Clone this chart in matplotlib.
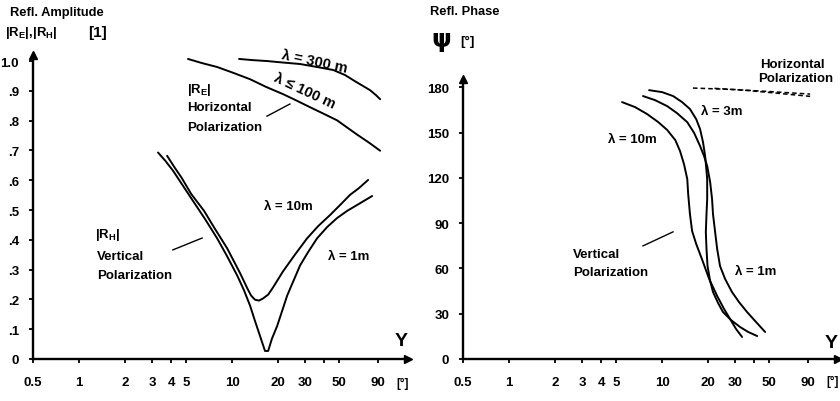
import matplotlib
matplotlib.use("Agg")
import matplotlib.pyplot as plt
from matplotlib.ticker import FixedLocator, FixedFormatter, NullLocator

# === DATA ===
# left panel: reflection amplitude |R|
amp_100m_x = [5.15, 6.37, 7.98, 10.1, 13.1, 16.7, 21.5, 26.2, 32.3, 39.3, 48.5, 56.4, 65.6, 78.5, 92.7]
amp_100m_y = [1.007, 0.993, 0.980, 0.961, 0.939, 0.913, 0.889, 0.868, 0.845, 0.824, 0.801, 0.777, 0.753, 0.726, 0.699]
amp_300m_x = [11.1, 13.7, 16.9, 21.5, 27.8, 35.9, 45.7, 54.7, 63.6, 71.8, 79.8, 87.3, 92.7]
amp_300m_y = [1.007, 1.003, 1.0, 0.995, 0.990, 0.980, 0.970, 0.953, 0.932, 0.916, 0.902, 0.885, 0.872]
amp_10m_x = [3.76, 4.18, 4.68, 5.40, 6.56, 7.74, 9.27, 11.3, 12.6, 13.3, 14.1, 15.0, 15.9, 17.2,
             18.5, 21.5, 25.8, 30.9, 36.5, 43.6, 50.8, 59.0, 67.6, 77.4]
amp_10m_y = [0.682, 0.645, 0.608, 0.554, 0.497, 0.436, 0.372, 0.287, 0.236, 0.213, 0.199, 0.196, 0.203, 0.216,
             0.240, 0.294, 0.351, 0.405, 0.446, 0.483, 0.517, 0.551, 0.574, 0.601]
amp_1m_x = [3.28, 3.65, 4.11, 4.78, 5.56, 6.65, 7.98, 9.27, 10.8, 11.97, 13.1, 14.1, 15.2, 16.4,
            17.2, 18.2, 19.7, 22.9, 27.8, 31.3, 35.9, 41.8, 48.5, 56.4, 65.6, 82.2]
amp_1m_y = [0.693, 0.666, 0.632, 0.581, 0.530, 0.470, 0.405, 0.345, 0.280, 0.230, 0.179, 0.128, 0.078, 0.027,
            0.027, 0.068, 0.111, 0.213, 0.314, 0.358, 0.405, 0.443, 0.473, 0.497, 0.517, 0.547]

# right panel: reflection phase psi [deg]
ph_10m_x = [5.47, 6.65, 7.97, 9.42, 10.8, 12.2, 13.1, 13.9, 14.6, 14.8, 15.2, 15.7, 16.7, 18.2,
            20.3, 22.9, 25.4, 27.8, 30.4, 33.3]
ph_10m_y = [170.2, 166.9, 162.3, 157.0, 151.7, 145.0, 137.7, 129.1, 119.2, 109.3, 96.0, 84.8, 76.2, 66.2,
            53.0, 41.7, 33.1, 26.5, 19.9, 14.6]
ph_3m_x = [8.22, 10.0, 11.8, 13.5, 15.2, 16.7, 17.7, 18.5, 19.1, 19.4, 19.7, 19.7, 19.5, 19.3, 19.5,
           19.8, 20.6, 21.5, 23.2, 25.0, 28.2, 32.3, 36.5, 41.8]
ph_3m_y = [178.1, 176.8, 174.2, 170.2, 165.6, 158.9, 152.3, 143.7, 134.4, 127.2, 119.2, 106.0, 96.0, 84.1, 72.8,
           61.6, 51.7, 44.4, 37.1, 31.1, 25.8, 21.2, 17.9, 15.2]
ph_1m_x = [7.50, 8.99, 10.8, 12.5, 14.6, 16.2, 17.7, 18.8, 19.7, 20.6, 21.2, 21.5, 22.2, 22.9, 23.9,
           25.8, 28.6, 31.8, 35.9, 41.1, 47.1]
ph_1m_y = [174.2, 171.5, 167.5, 162.9, 156.9, 149.7, 141.1, 134.4, 127.8, 117.2, 106.0, 96.0, 84.1, 72.8, 61.6,
           53.0, 44.4, 37.7, 31.1, 24.5, 17.9]
ph_hor1_x = [15.9, 30, 50, 92.7]
ph_hor1_y = [179.5, 178.5, 177.2, 175.5]
ph_hor2_x = [22, 35, 55, 92.7]
ph_hor2_y = [179.3, 178.0, 176.2, 174.0]

x_ticks = [0.5, 1, 2, 3, 4, 5, 10, 20, 30, 40, 50, 90]
x_labels = ["0.5", "1", "2", "3", "4", "5", "10", "20", "30", "", "50", "90"]
amp_ticks = [0, 0.1, 0.2, 0.3, 0.4, 0.5, 0.6, 0.7, 0.8, 0.9, 1.0]
amp_labels = ["0", ".1", ".2", ".3", ".4", ".5", ".6", ".7", ".8", ".9", "1.0"]
ph_ticks = [0, 30, 60, 90, 120, 150, 180]
ph_labels = ["0", "30", "60", "90", "120", "150", "180"]

# === STYLE ===
plt.rcParams["font.family"] = ["Liberation Sans", "DejaVu Sans"]
plt.rcParams["font.weight"] = "bold"
plt.rcParams["mathtext.fontset"] = "custom"
plt.rcParams["mathtext.rm"] = "Liberation Sans:bold"
plt.rcParams["mathtext.bf"] = "Liberation Sans:bold"
plt.rcParams["mathtext.default"] = "bf"
fs = 9.5
lw = 1.4

fig = plt.figure(figsize=(8.4, 4.02), dpi=100)
ax1 = fig.add_axes([33 / 840, 0.1045, 375 / 840, 0.756])
ax2 = fig.add_axes([463 / 840, 0.1045, 375 / 840, 0.6965])


def setup_axis(ax, yticks, ylabels, ytop):
    ax.set_xscale("log")
    ax.set_xlim(0.5, 141)
    ax.set_ylim(0, ytop)
    for s in ["top", "right"]:
        ax.spines[s].set_visible(False)
    for s in ["left", "bottom"]:
        ax.spines[s].set_linewidth(1.7)
    ax.xaxis.set_major_locator(FixedLocator(x_ticks))
    ax.xaxis.set_major_formatter(FixedFormatter(x_labels))
    ax.xaxis.set_minor_locator(NullLocator())
    ax.set_yticks(yticks)
    ax.set_yticklabels(ylabels)
    ax.tick_params(axis="x", direction="out", length=3, width=1.3, pad=9, labelsize=fs)
    ax.tick_params(axis="y", direction="out", length=3, width=1.3, pad=7, labelsize=fs)
    # arrow heads on the axes
    ax.plot(1, 0, ">k", markersize=5.5, transform=ax.transAxes, clip_on=False)
    ax.plot(0, 1, "^k", markersize=5.5, transform=ax.transAxes, clip_on=False)
    ax.text(0.965, 0.06, "Y", transform=ax.transAxes, fontsize=14, ha="left", va="center")
    ax.text(0.985, -0.08, "[°]", transform=ax.transAxes, fontsize=fs - 1, ha="center", va="center")


setup_axis(ax1, amp_ticks, amp_labels, 1.02)
setup_axis(ax2, ph_ticks, ph_labels, 185.5)

# === LEFT: AMPLITUDE ===
for xs, ys in [(amp_100m_x, amp_100m_y), (amp_300m_x, amp_300m_y),
               (amp_10m_x, amp_10m_y), (amp_1m_x, amp_1m_y)]:
    ax1.plot(xs, ys, color="black", lw=lw, solid_capstyle="round", solid_joinstyle="round")

t = ax1.transAxes
ax1.text(0.411, 0.888, "|R$_E$|", transform=t, fontsize=fs, va="center")
ax1.text(0.411, 0.830, "Horizontal", transform=t, fontsize=fs, va="center")
ax1.text(0.411, 0.764, "Polarization", transform=t, fontsize=fs, va="center")
ax1.plot([0.624, 0.685], [0.799, 0.839], color="black", lw=1, transform=t)
ax1.text(0.750, 0.982, "λ = 300 m", transform=t, fontsize=fs + 1, ha="center", va="center", rotation=-12)
ax1.text(0.725, 0.884, "λ ≤ 100 m", transform=t, fontsize=fs + 1, ha="center", va="center", rotation=-25)
ax1.text(0.68, 0.503, "λ = 10m", transform=t, fontsize=fs, ha="center", va="center")
ax1.text(0.843, 0.339, "λ = 1m", transform=t, fontsize=fs, ha="center", va="center")
ax1.text(0.165, 0.411, "|R$_H$|", transform=t, fontsize=fs, va="center")
ax1.text(0.171, 0.339, "Vertical", transform=t, fontsize=fs, va="center")
ax1.text(0.171, 0.276, "Polarization", transform=t, fontsize=fs, va="center")
ax1.plot([0.373, 0.451], [0.359, 0.398], color="black", lw=1, transform=t)

# === RIGHT: PHASE ===
for xs, ys in [(ph_10m_x, ph_10m_y), (ph_3m_x, ph_3m_y), (ph_1m_x, ph_1m_y)]:
    ax2.plot(xs, ys, color="black", lw=lw, solid_capstyle="round", solid_joinstyle="round")
ax2.plot(ph_hor1_x, ph_hor1_y, color="black", lw=1.1, ls=(0, (3, 2)))
ax2.plot(ph_hor2_x, ph_hor2_y, color="black", lw=1.1, ls=(0, (3, 2)))

t = ax2.transAxes
ax2.text(0.792, 1.054, "Horizontal", transform=t, fontsize=fs, va="center")
ax2.text(0.787, 1.004, "Polarization", transform=t, fontsize=fs, va="center")
ax2.text(0.691, 0.886, "λ = 3m", transform=t, fontsize=fs, ha="center", va="center")
ax2.text(0.451, 0.786, "λ = 10m", transform=t, fontsize=fs, ha="center", va="center")
ax2.text(0.781, 0.314, "λ = 1m", transform=t, fontsize=fs, ha="center", va="center")
ax2.text(0.293, 0.375, "Vertical", transform=t, fontsize=fs, va="center")
ax2.text(0.293, 0.311, "Polarization", transform=t, fontsize=fs, va="center")
ax2.plot([0.48, 0.56], [0.404, 0.454], color="black", lw=1, transform=t)

# === AXIS TITLES ===
fig.text(0.012, 0.968, "Refl. Amplitude", fontsize=9.3, va="center")
fig.text(0.006, 0.918, "|R$_E$|,|R$_H$|", fontsize=fs, va="center")
fig.text(0.105, 0.918, "[1]", fontsize=fs + 1.5, va="center")
fig.text(0.512, 0.970, "Refl. Phase", fontsize=9.3, va="center")
fig.text(0.514, 0.900, "ψ", fontsize=18, va="center", family=["DejaVu Sans"])
fig.text(0.548, 0.896, "[°]", fontsize=fs, va="center")

plt.savefig("out.png", dpi=100)
